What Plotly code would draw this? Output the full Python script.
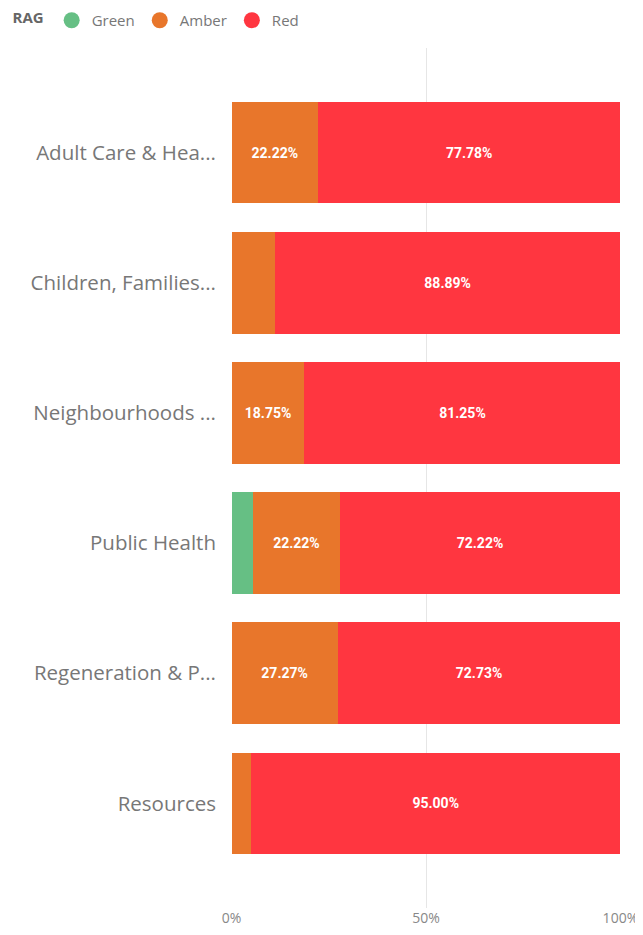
import plotly.graph_objects as go

categories = ["Adult Care & Hea...", "Children, Families...", "Neighbourhoods ...",
              "Public Health", "Regeneration & P...", "Resources"]
green = [0, 0, 0, 5.56, 0, 0]
amber = [22.22, 11.11, 18.75, 22.22, 27.27, 5.00]
red = [77.78, 88.89, 81.25, 72.22, 72.73, 95.00]
tick_vals = [0, 50, 100]
tick_text = ["0%", "50%", "100%"]

series = [("Green", green, "#66BF84"), ("Amber", amber, "#E8762B"), ("Red", red, "#FF3640")]

fig = go.Figure()
for name, vals, color in series:
    labels = [f"{v:.2f}%" if v >= 15 else "" for v in vals]
    fig.add_trace(go.Bar(
        y=categories, x=vals, orientation="h", name=name,
        marker=dict(color=color, line=dict(width=0)),
        text=labels, textposition="inside", insidetextanchor="middle",
        textfont=dict(family="Roboto", size=14, color="white", weight="bold"),
        textangle=0, width=0.78, showlegend=False, hoverinfo="skip",
    ))
for name, vals, color in series:
    fig.add_trace(go.Scatter(
        x=[None], y=[None], mode="markers", name=name,
        marker=dict(color=color, size=16, symbol="circle"), showlegend=True,
    ))

# page body has an 8px margin, so the figure is sized to fill the remaining window
fig.update_layout(
    barmode="stack",
    width=635, height=927,
    margin=dict(l=223, r=22, t=40, b=27, autoexpand=False),
    paper_bgcolor="white", plot_bgcolor="white",
    font=dict(family="Open Sans", color="#777777"),
    legend=dict(orientation="h", xref="container", yref="paper",
                x=0.004, xanchor="left", y=1.032, yanchor="middle",
                traceorder="normal",
                title=dict(text="<b>RAG</b>", font=dict(size=15, color="#666666")),
                font=dict(size=15, color="#777777"), itemwidth=30, tracegroupgap=0,
                bgcolor="rgba(0,0,0,0)"),
    xaxis=dict(range=[-0.15, 100.15], tickvals=tick_vals, ticktext=tick_text,
               showgrid=True, gridcolor="#E6E6E6", gridwidth=1,
               zeroline=False, showline=False, automargin=False,
               tickfont=dict(size=14, color="#888888"), fixedrange=True),
    yaxis=dict(type="category", range=[5.804, -0.804], showgrid=False, automargin=False,
               tickfont=dict(size=20.5, color="#777777"), ticks="", ticklabelstandoff=14,
               showline=False, zeroline=False),
)

fig.write_html("out.html")
